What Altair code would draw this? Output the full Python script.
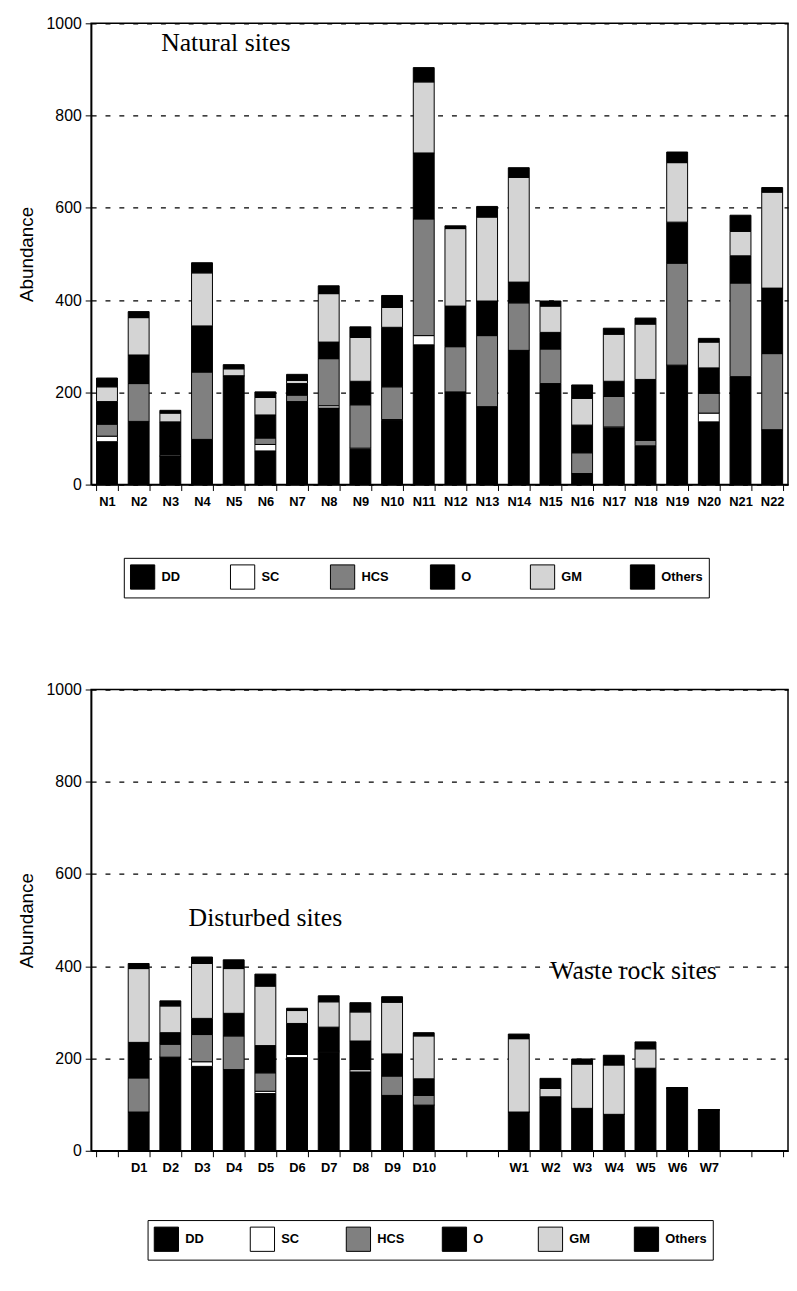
import altair as alt
import pandas as pd

components = ["DD", "SC", "HCS", "O", "GM", "Others"]
fills = ["#000000", "#ffffff", "#808080", "#000000", "#d4d4d4", "#000000"]

# ---- Natural sites ----
natural_sites = ["N%d" % i for i in range(1, 23)]
nat_DD = [93, 137, 62, 98, 236, 73, 180, 166, 76, 139, 303, 201, 169, 291, 219, 24, 123, 84, 259, 136, 234, 119]
nat_SC = [12, 0, 0, 0, 0, 14, 0, 5, 3, 2, 20, 0, 0, 0, 0, 0, 2, 0, 0, 19, 0, 0]
nat_HCS = [26, 82, 3, 146, 0, 14, 14, 102, 94, 71, 253, 98, 154, 103, 75, 45, 66, 12, 221, 43, 203, 165]
nat_O = [49, 62, 71, 100, 0, 50, 25, 36, 51, 129, 143, 88, 75, 45, 36, 60, 33, 132, 89, 55, 59, 142]
nat_GM = [32, 81, 19, 115, 15, 38, 7, 105, 95, 43, 154, 168, 182, 227, 57, 58, 102, 120, 129, 56, 53, 208]
nat_Others = [19, 13, 6, 22, 9, 12, 13, 17, 23, 26, 31, 6, 23, 21, 11, 29, 13, 13, 23, 8, 35, 10]

# ---- Disturbed sites ----
disturbed_sites = ["D%d" % i for i in range(1, 11)]
dis_DD = [84, 203, 183, 176, 124, 202, 214, 171, 120, 99]
dis_SC = [0, 0, 10, 0, 5, 7, 2, 5, 0, 0]
dis_HCS = [74, 28, 59, 73, 40, 0, 0, 0, 42, 21]
dis_O = [77, 25, 35, 49, 59, 67, 52, 62, 48, 36]
dis_GM = [160, 58, 119, 97, 129, 28, 55, 63, 112, 93]
dis_Others = [11, 11, 14, 19, 26, 5, 13, 20, 12, 7]

# ---- Waste rock sites ----
waste_sites = ["W%d" % i for i in range(1, 8)]
was_DD = [84, 117, 92, 79, 179, 136, 89]
was_SC = [0, 0, 0, 0, 0, 0, 0]
was_HCS = [0, 0, 0, 0, 0, 0, 0]
was_O = [0, 0, 0, 0, 0, 0, 0]
was_GM = [159, 18, 96, 107, 42, 0, 0]
was_Others = [10, 22, 11, 21, 15, 0, 0]

y_ticks = [0, 200, 400, 600, 800, 1000]

top_domain = natural_sites
bottom_domain = ["_a"] + disturbed_sites + ["_b", "_c"] + waste_sites + ["_d", "_e"]


def long_df(sites, series):
    rows = []
    for i, s in enumerate(sites):
        for k, comp in enumerate(components):
            rows.append({"site": s, "component": comp, "order": k, "value": series[k][i]})
    return pd.DataFrame(rows)


top_df = long_df(natural_sites, [nat_DD, nat_SC, nat_HCS, nat_O, nat_GM, nat_Others])
bottom_df = pd.concat([
    long_df(disturbed_sites, [dis_DD, dis_SC, dis_HCS, dis_O, dis_GM, dis_Others]),
    long_df(waste_sites, [was_DD, was_SC, was_HCS, was_O, was_GM, was_Others]),
], ignore_index=True)

PLOT_W = 704
PLOT_H = 466


def panel(df, domain, legend_x, legend_y, col_pad, notes):
    xscale = alt.Scale(domain=domain, paddingInner=0.34, paddingOuter=0.17)
    xaxis = alt.Axis(
        title=None, labelAngle=0, tickBand="extent", labelFontWeight="bold",
        labelFontSize=13, labelPadding=5, tickSize=6, tickColor="black",
        domainColor="black", domainWidth=1.5,
        labelExpr="indexof(datum.label, '_') == 0 ? '' : datum.label",
    )
    yscale = alt.Scale(domain=[0, 1000], nice=False)
    yaxis = alt.Axis(
        values=y_ticks, format="d", title="Abundance", titleFontSize=19,
        titleFontWeight="normal", titlePadding=10, labelFontSize=16,
        labelPadding=4, tickSize=6, tickColor="black", domainColor="black",
        domainWidth=1.5, grid=True, gridColor="black", gridDash=[5, 9],
        gridWidth=1.3, gridOpacity=1,
    )
    bars = alt.Chart(df).mark_bar(stroke="black", strokeWidth=1).encode(
        x=alt.X("site:N", scale=xscale, axis=xaxis, sort=domain),
        y=alt.Y("value:Q", stack="zero", scale=yscale, axis=yaxis),
        color=alt.Color(
            "component:N",
            scale=alt.Scale(domain=components, range=fills),
            legend=alt.Legend(
                orient="none", legendX=legend_x, legendY=legend_y,
                direction="horizontal", columns=6, title=None,
                symbolType="square", symbolSize=600, symbolStrokeColor="black",
                symbolStrokeWidth=1, symbolOpacity=1,
                labelFontSize=13, labelFontWeight="bold", labelOffset=6,
                gridAlign="all", columnPadding=col_pad,
                strokeColor="black", padding=6,
            ),
        ),
        order=alt.Order("order:Q", sort="ascending"),
    )
    layers = [bars]
    for label, site, yv, dx in notes:
        ann = pd.DataFrame({"site": [site], "y": [yv], "label": [label]})
        layers.append(
            alt.Chart(ann).mark_text(
                font="Liberation Serif", fontSize=26, align="center",
                baseline="middle", dx=dx, color="black",
            ).encode(
                x=alt.X("site:N", scale=xscale, sort=domain),
                y=alt.Y("y:Q", scale=yscale),
                text="label:N",
            )
        )
    return alt.layer(*layers).properties(width=PLOT_W, height=PLOT_H)


top = panel(top_df, top_domain, 33, 540, 25, [("Natural sites", "N5", 958, -8)])
bottom = panel(
    bottom_df, bottom_domain, 57, 536, 21,
    [("Disturbed sites", "D5", 505, 0), ("Waste rock sites", "W5", 390, -12)],
)

chart = (
    alt.vconcat(top, bottom, spacing=82)
    .resolve_scale(color="independent")
    .resolve_legend(color="independent")
    .properties(padding={"left": 8, "top": 0, "right": 0, "bottom": 5})
    .configure(font="Liberation Sans")
    .configure_view(stroke="black", strokeWidth=1.5)
    .configure_axis(labelColor="black", titleColor="black")
)

chart.save("out.html", embed_options={"renderer": "svg", "actions": False})
